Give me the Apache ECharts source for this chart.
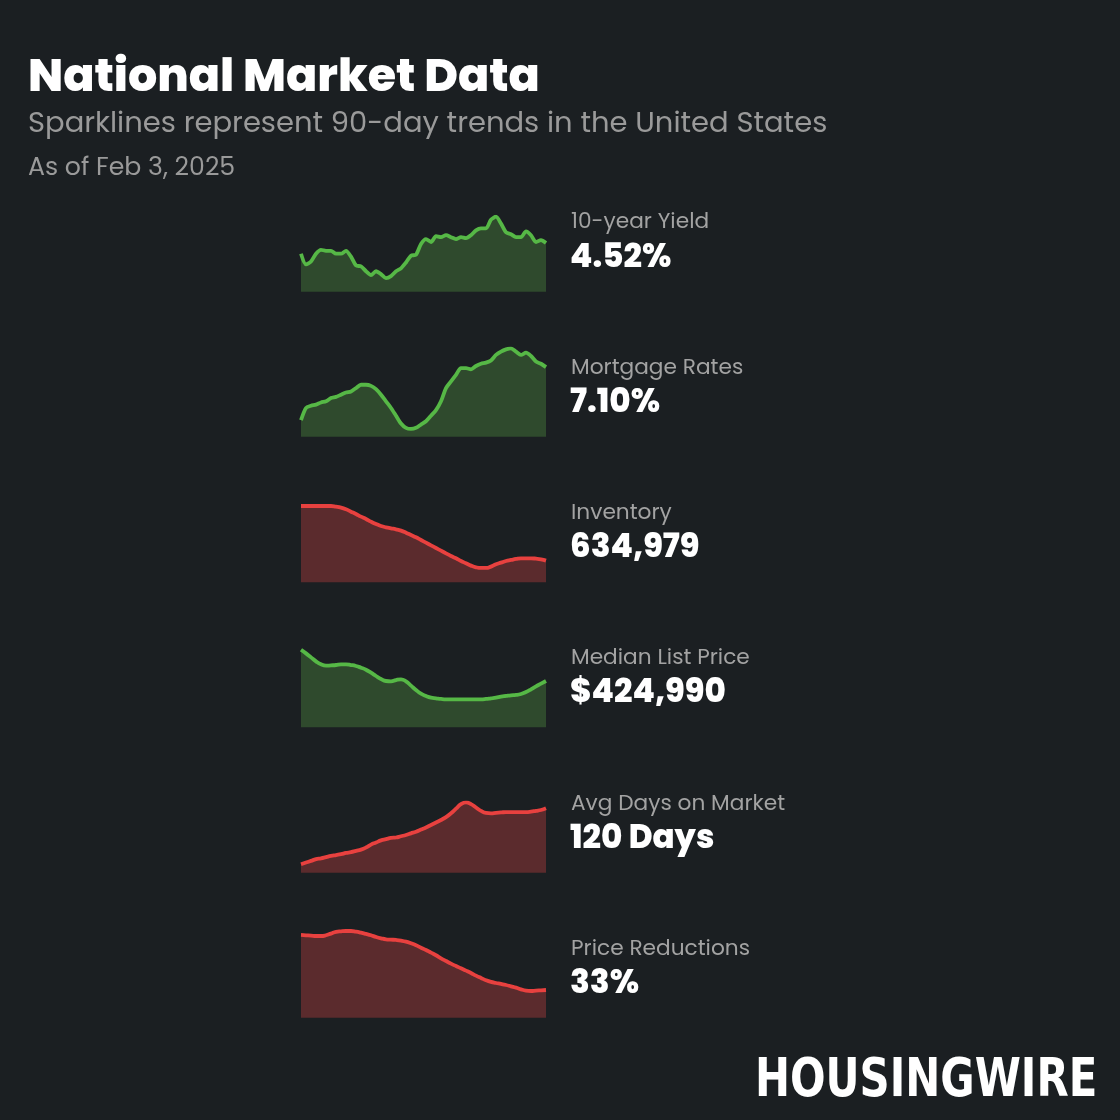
<!DOCTYPE html>
<html>
<head>
<meta charset="utf-8">
<script src="https://cdn.jsdelivr.net/npm/echarts@6/dist/echarts.min.js"></script>
<style>
html,body{margin:0;padding:0;background:#1b1f22;}
#chart{width:1120px;height:1120px;}
</style>
</head>
<body>
<div id="chart"></div>
<script>
// ---- Data (90-day trends, ~50 samples each) ----
const yieldVals = [4.41,4.30,4.33,4.41,4.45,4.44,4.44,4.41,4.41,4.44,4.38,4.29,4.28,4.23,4.19,4.23,4.20,4.16,4.18,4.23,4.26,4.32,4.39,4.40,4.51,4.56,4.53,4.59,4.58,4.60,4.58,4.56,4.58,4.57,4.60,4.65,4.67,4.67,4.76,4.79,4.72,4.63,4.61,4.58,4.58,4.64,4.60,4.53,4.55,4.52];
const mortgageVals = [6.62,6.73,6.75,6.76,6.78,6.79,6.82,6.83,6.85,6.87,6.88,6.91,6.94,6.94,6.93,6.90,6.85,6.79,6.73,6.66,6.59,6.55,6.54,6.55,6.58,6.61,6.66,6.71,6.79,6.91,6.97,7.03,7.09,7.09,7.08,7.11,7.13,7.14,7.16,7.21,7.24,7.26,7.27,7.24,7.21,7.23,7.20,7.15,7.13,7.10];
const inventoryVals = [735000,735000,735000,735000,735000,735000,735000,733800,731970,728920,724650,720380,715500,711230,706350,702080,698420,695980,694150,692320,689880,686220,681950,677680,672800,667920,663040,658160,653280,648400,643520,639250,634370,630100,625830,622780,621560,621560,623990,628270,631320,634370,636200,638030,639250,639250,639250,638640,637420,634979];
const listPriceVals = [440120,438350,436420,434490,433040,432400,432560,432720,433040,433040,432720,432240,431430,430460,429020,427410,425960,424990,424830,425470,425800,424830,422740,420640,418870,417750,416940,416620,416300,416140,416140,416140,416140,416140,416140,416140,416140,416300,416620,416940,417420,417750,418070,418230,418710,419680,420970,422410,423700,424990];
const daysOnMarketVals = [106.6,107.0,107.4,107.8,108.0,108.3,108.6,108.8,109.0,109.3,109.5,109.8,110.1,110.6,111.3,111.8,112.3,112.6,112.9,113.0,113.3,113.6,114.0,114.4,114.9,115.4,116.0,116.6,117.2,117.9,118.8,119.9,121.0,121.4,121.0,120.2,119.4,118.9,118.8,118.9,119.0,119.1,119.1,119.1,119.1,119.1,119.2,119.4,119.6,120.0];
const priceReductionVals = [38.28,38.25,38.22,38.18,38.18,38.25,38.41,38.57,38.63,38.66,38.66,38.60,38.50,38.38,38.25,38.09,37.96,37.86,37.83,37.80,37.74,37.64,37.48,37.29,37.06,36.84,36.58,36.33,36.04,35.78,35.53,35.30,35.08,34.86,34.63,34.38,34.15,33.93,33.77,33.67,33.58,33.48,33.35,33.22,33.06,32.94,32.90,32.94,32.97,33.00];

const metricNames = ['10-year Yield','Mortgage Rates','Inventory','Median List Price','Avg Days on Market','Price Reductions'];
const metricValues = ['4.52%','7.10%','634,979','$424,990','120 Days','33%'];
const seriesData = [yieldVals, mortgageVals, inventoryVals, listPriceVals, daysOnMarketVals, priceReductionVals];
const trendColor = ['green','green','red','green','red','red'];
// axis ranges (value at grid bottom, value at grid top)
const axisMin = [4.02, 6.47, 595330, 402610, 104.56, 30.34];
const axisMax = [4.79, 7.27, 735000, 440124, 121.44, 38.66];

// ---- Layout / style ----
const gridTop = [216.7, 348.3, 506, 649.7, 802.3, 931];
const gridBottomY = [291.7, 436.7, 582.3, 727.3, 872.7, 1017.7];
const rowLabelY = [221, 367, 512, 657, 803, 948];
const rowValueY = [255, 400, 545, 690, 836, 981];
const palette = {
  green: {line: '#56b846', area: '#2f4a2d'},
  red: {line: '#e8413f', area: '#5b2b2d'}
};
const FONT = 'Poppins, Inter, "Noto Sans", sans-serif';

const chart = echarts.init(document.getElementById('chart'));
const grids = [], xAxes = [], yAxes = [], series = [], graphics = [];

seriesData.forEach((vals, i) => {
  grids.push({left: 301, width: 245, top: gridTop[i], height: gridBottomY[i] - gridTop[i]});
  xAxes.push({type: 'category', gridIndex: i, boundaryGap: false,
    data: vals.map((_, k) => k + 1), show: false});
  yAxes.push({type: 'value', gridIndex: i, min: axisMin[i], max: axisMax[i], show: false});
  const c = palette[trendColor[i]];
  series.push({
    type: 'line', xAxisIndex: i, yAxisIndex: i, data: vals,
    smooth: i < 2 ? 0.25 : 0.5, symbol: 'none',
    lineStyle: {color: c.line, width: 3.8},
    areaStyle: {color: c.area, opacity: 1},
    silent: true, animation: false
  });
  graphics.push({type: 'text', left: 571, top: rowLabelY[i] - 9,
    style: {text: metricNames[i], fill: '#a3a3a3', font: '400 21.7px ' + FONT}});
  graphics.push({type: 'text', left: 570, top: rowValueY[i] - 13,
    style: {text: metricValues[i], fill: '#ffffff', font: '800 32.5px ' + FONT}});
});

graphics.push({type: 'text', left: 28, top: 56,
  style: {text: 'National Market Data', fill: '#ffffff', font: '800 46px ' + FONT}});
graphics.push({type: 'text', left: 28, top: 110,
  style: {text: 'Sparklines represent 90-day trends in the United States', fill: '#9a9a9a', font: '400 29px ' + FONT}});
graphics.push({type: 'text', left: 28, top: 156,
  style: {text: 'As of Feb 3, 2025', fill: '#9a9a9a', font: '400 25.2px ' + FONT}});
graphics.push({type: 'text', x: 755, y: 1055, scaleX: 0.775,
  style: {text: 'HOUSINGWIRE', fill: '#ffffff', font: 'bold 54px "DejaVu Sans", sans-serif'}});

chart.setOption({
  backgroundColor: '#1b1f22',
  animation: false,
  grid: grids, xAxis: xAxes, yAxis: yAxes, series: series,
  graphic: graphics
});
</script>
</body>
</html>
